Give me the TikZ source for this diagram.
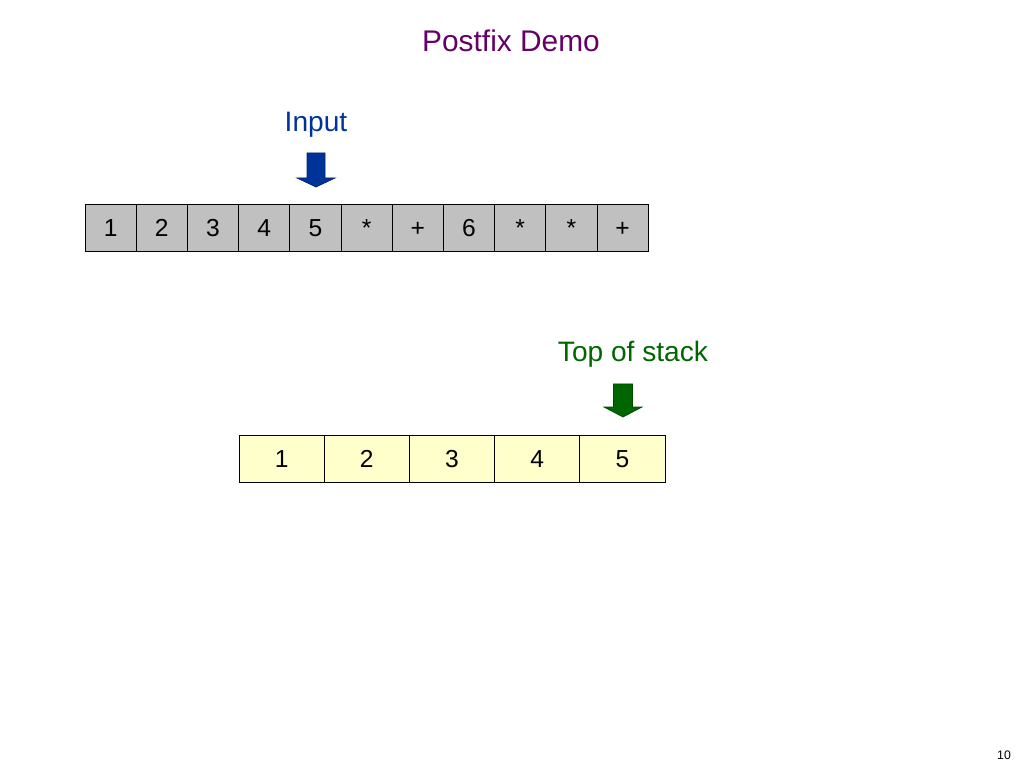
\documentclass[tikz,border=0pt]{standalone}
\usepackage{fontspec}
\setmainfont{Liberation Sans}
\usetikzlibrary{positioning}
\definecolor{titlepurple}{RGB}{102,0,102}
\definecolor{inblue}{RGB}{0,51,153}
\definecolor{stackgreen}{RGB}{0,102,0}
\definecolor{cellgray}{RGB}{192,192,192}
\definecolor{cellyellow}{RGB}{255,255,204}

\begin{document}
\begin{tikzpicture}[every node/.style={inner sep=0pt,outer sep=0pt},
  incell/.style={draw,fill=cellgray,minimum width=1.024cm,minimum height=0.94cm,text height=10pt,text depth=0pt,font=\fontsize{14}{16}\selectfont},
  stcell/.style={draw,fill=cellyellow,minimum width=1.704cm,minimum height=0.94cm,text height=10pt,text depth=0pt,font=\fontsize{14}{16}\selectfont}]
\useasboundingbox (0,0) rectangle (20.48,-15.36);

\node[titlepurple,font=\fontsize{17}{20}\selectfont] (title) at (10.22,-0.82) {Postfix Demo};

% input row
\node[incell] (i1) at (2.212,-4.55) {1};
\begin{scope}[node distance=1.024cm]
\node[incell,right of=i1] (i2) {2};
\node[incell,right of=i2] (i3) {3};
\node[incell,right of=i3] (i4) {4};
\node[incell,right of=i4] (i5) {5};
\node[incell,right of=i5] (i6) {*};
\node[incell,right of=i6] (i7) {+};
\node[incell,right of=i7] (i8) {6};
\node[incell,right of=i8] (i9) {*};
\node[incell,right of=i9] (i10) {*};
\node[incell,right of=i10] (i11) {+};
\end{scope}

\node[inblue,font=\fontsize{16}{19}\selectfont] (inlabel) at (6.32,-2.5) {Input};
\fill[inblue,draw=inblue!70!black] (6.14,-3.06) -- (6.50,-3.06) -- (6.50,-3.56) -- (6.70,-3.56)
  -- (6.32,-3.74) -- (5.94,-3.56) -- (6.14,-3.56) -- cycle;

% stack row
\node[stcell] (s1) at (5.632,-9.17) {1};
\begin{scope}[node distance=1.704cm]
\node[stcell,right of=s1] (s2) {2};
\node[stcell,right of=s2] (s3) {3};
\node[stcell,right of=s3] (s4) {4};
\node[stcell,right of=s4] (s5) {5};
\end{scope}

\node[stackgreen,font=\fontsize{16}{19}\selectfont] (toplabel) at (12.66,-7.08) {Top of stack};
\fill[stackgreen,draw=stackgreen!70!black] (12.27,-7.68) -- (12.65,-7.68) -- (12.65,-8.14) -- (12.84,-8.14)
  -- (12.46,-8.34) -- (12.08,-8.14) -- (12.27,-8.14) -- cycle;

\node[font=\fontsize{7}{8}\selectfont] (pagenum) at (20.08,-15.1) {10};
\end{tikzpicture}
\end{document}
